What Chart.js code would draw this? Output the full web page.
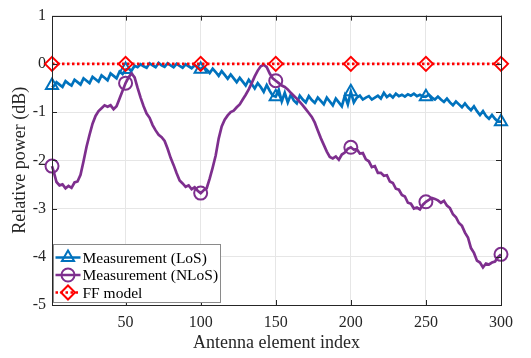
<!DOCTYPE html>
<html>
<head>
<meta charset="utf-8">
<script src="https://cdn.jsdelivr.net/npm/chart.js@4"></script>
<style>
  html, body { margin: 0; padding: 0; background: #fff; }
</style>
</head>
<body>
<canvas id="chart" width="531" height="358"></canvas>
<script>
// element indices: 1, then every second element up to 300
const elemIdx = [1].concat(Array.from({ length: 150 }, (_, i) => 2 * (i + 1)));
const markerIdx = [1, 50, 100, 150, 200, 250, 300];
const xTicks = [50, 100, 150, 200, 250, 300];
const yTicks = [-5, -4, -3, -2, -1, 0, 1];

const losVal = [
  -0.45, -0.47, -0.38, -0.43, -0.48, -0.36, -0.41, -0.45, -0.33, -0.38,
  -0.43, -0.30, -0.35, -0.40, -0.27, -0.32, -0.37, -0.24, -0.29, -0.34,
  -0.20, -0.25, -0.30, -0.16, -0.21, -0.12, -0.10, -0.14, -0.04, -0.07,
  -0.01, -0.05, -0.08, 0.01, -0.03, -0.07, 0.02, -0.03, -0.06, 0.01,
  -0.03, -0.07, 0.00, -0.04, -0.08, -0.01, -0.05, -0.09, -0.03, -0.07,
  -0.11, -0.06, -0.12, -0.19, -0.10, -0.17, -0.25, -0.15, -0.23, -0.31,
  -0.22, -0.30, -0.38, -0.29, -0.37, -0.45, -0.33, -0.42, -0.51, -0.40,
  -0.48, -0.58, -0.44, -0.56, -0.66, -0.68, -0.54, -0.78, -0.60, -0.80,
  -0.64, -0.76, -0.82, -0.66, -0.74, -0.80, -0.67, -0.75, -0.81, -0.70,
  -0.77, -0.84, -0.70, -0.78, -0.86, -0.72, -0.80, -0.88, -0.66, -0.84,
  -0.58, -0.80, -0.70, -0.66, -0.74, -0.70, -0.67, -0.74, -0.70, -0.66,
  -0.72, -0.60, -0.69, -0.64, -0.70, -0.62, -0.67, -0.64, -0.68, -0.63,
  -0.66, -0.62, -0.67, -0.64, -0.68, -0.68, -0.64, -0.70, -0.74, -0.68,
  -0.74, -0.79, -0.72, -0.80, -0.86, -0.78, -0.84, -0.90, -0.82, -0.90,
  -0.96, -0.88, -0.98, -1.06, -0.98, -1.08, -1.14, -1.06, -1.14, -1.20,
  -1.20
];

const nlosVal = [
  -2.12, -2.22, -2.45, -2.52, -2.50, -2.58, -2.53, -2.57, -2.46, -2.44,
  -2.30, -2.02, -1.72, -1.47, -1.24, -1.08, -0.98, -0.92, -0.86, -0.89,
  -0.86, -0.94, -0.88, -0.72, -0.56, -0.40, -0.28, -0.20, -0.28, -0.50,
  -0.70, -0.88, -1.03, -1.12, -1.27, -1.38, -1.47, -1.52, -1.60, -1.76,
  -1.95, -2.10, -2.27, -2.42, -2.48, -2.55, -2.52, -2.60, -2.56, -2.63,
  -2.68, -2.62, -2.58, -2.38, -2.15, -1.90, -1.55, -1.30, -1.16, -1.07,
  -1.00, -0.97, -0.90, -0.84, -0.74, -0.64, -0.53, -0.40, -0.26, -0.14,
  -0.05, -0.02, -0.07, -0.20, -0.30, -0.35, -0.40, -0.45, -0.48, -0.53,
  -0.60, -0.66, -0.72, -0.79, -0.86, -0.94, -1.02, -1.10, -1.22, -1.38,
  -1.54, -1.68, -1.82, -1.93, -1.96, -1.92, -1.99, -1.88, -1.84, -1.76,
  -1.73, -1.78, -1.77, -1.86, -1.85, -1.98, -2.02, -2.14, -2.12, -2.26,
  -2.26, -2.32, -2.31, -2.44, -2.47, -2.59, -2.61, -2.72, -2.75, -2.88,
  -2.90, -3.00, -2.98, -3.02, -2.92, -2.86, -2.82, -2.78, -2.80, -2.83,
  -2.88, -2.84, -2.94, -2.99, -3.12, -3.18, -3.30, -3.36, -3.50, -3.60,
  -3.82, -3.92, -4.08, -4.12, -4.22, -4.14, -4.16, -4.12, -4.10, -4.01,
  -3.95
];

const ffIdx = [1, 50, 100, 150, 200, 250, 300];
const ffVal = [0, 0, 0, 0, 0, 0, 0];

const FONT = "'Liberation Serif', 'Times New Roman', serif";
const AXIS_COLOR = '#262626';

const series = [
  { label: 'Measurement (LoS)', color: '#0072BD', style: 'triangle', radius: 7, dash: [] },
  { label: 'Measurement (NLoS)', color: '#7E2F8E', style: 'circle', radius: 6.5, dash: [] },
  { label: 'FF model', color: '#FF0000', style: 'rectRot', radius: 7, dash: [2.5, 2.5] }
];

const markerRadius = r => ctx => markerIdx.includes(ctx.raw.x) ? r : 0;

// box round the axes with small inward ticks, like MATLAB
const axesBox = {
  id: 'axesBox',
  afterDatasetsDraw(chart) {
    const { ctx, chartArea: a, scales } = chart;
    ctx.save();
    ctx.strokeStyle = AXIS_COLOR;
    ctx.lineWidth = 1;
    ctx.strokeRect(Math.round(a.left) + 0.5, Math.round(a.top) + 0.5,
      Math.round(a.right - a.left), Math.round(a.bottom - a.top));
    ctx.beginPath();
    xTicks.forEach(v => {
      const x = Math.round(scales.x.getPixelForValue(v)) + 0.5;
      ctx.moveTo(x, a.bottom); ctx.lineTo(x, a.bottom - 5);
      ctx.moveTo(x, a.top); ctx.lineTo(x, a.top + 5);
    });
    yTicks.forEach(v => {
      const y = Math.round(scales.y.getPixelForValue(v)) + 0.5;
      ctx.moveTo(a.left, y); ctx.lineTo(a.left + 5, y);
      ctx.moveTo(a.right, y); ctx.lineTo(a.right - 5, y);
    });
    ctx.stroke();
    ctx.restore();
  }
};

// legend box in the lower left corner of the axes
const boxLegend = {
  id: 'boxLegend',
  afterDraw(chart) {
    const { ctx, chartArea: a } = chart;
    const x0 = Math.round(a.left) + 1.5, y0 = Math.round(a.bottom) - 60.5;
    ctx.save();
    ctx.fillStyle = '#fff';
    ctx.fillRect(x0, y0, 167, 58);
    ctx.strokeStyle = '#8a8a8a';
    ctx.lineWidth = 1;
    ctx.strokeRect(x0, y0, 167, 58);
    series.forEach((s, i) => {
      const y = y0 + 13 + i * 17.5;
      ctx.strokeStyle = s.color;
      ctx.lineWidth = 2.5;
      ctx.setLineDash(s.dash);
      ctx.beginPath();
      ctx.moveTo(x0 + 2, y);
      ctx.lineTo(x0 + 27, y);
      ctx.stroke();
      ctx.setLineDash([]);
      ctx.lineWidth = 2;
      ctx.fillStyle = 'rgba(0,0,0,0)';
      Chart.helpers.drawPoint(ctx, {
        pointStyle: s.style, radius: s.radius, rotation: 0, borderWidth: 2
      }, x0 + 14.5, y);
      ctx.fillStyle = '#000';
      ctx.font = '15.5px ' + FONT;
      ctx.textBaseline = 'middle';
      ctx.fillText(s.label, x0 + 29, y + 1);
    });
    ctx.restore();
  }
};

const toPoints = (xs, ys) => xs.map((x, i) => ({ x: x, y: ys[i] }));

const datasets = [
  { data: toPoints(elemIdx, losVal), order: 2 },
  { data: toPoints(elemIdx, nlosVal), order: 1 },
  { data: toPoints(ffIdx, ffVal), order: 0 }
].map((d, i) => {
  const s = series[i];
  return Object.assign(d, {
    label: s.label,
    borderColor: s.color,
    borderWidth: 2.7,
    borderDash: s.dash,
    pointStyle: s.style,
    pointRadius: i === 2 ? s.radius : markerRadius(s.radius),
    pointBorderColor: s.color,
    pointBorderWidth: 2,
    pointBackgroundColor: 'rgba(0,0,0,0)',
    tension: 0,
    clip: false
  });
});

new Chart(document.getElementById('chart'), {
  type: 'line',
  data: { datasets: datasets },
  options: {
    responsive: false,
    animation: false,
    events: [],
    layout: { padding: { top: 15, right: 30, left: 0, bottom: 0 } },
    plugins: { legend: { display: false }, tooltip: { enabled: false } },
    scales: {
      x: {
        type: 'linear',
        min: 1,
        max: 300,
        afterBuildTicks: s => { s.ticks = xTicks.map(v => ({ value: v })); },
        afterFit: s => { s.height = 53; },
        grid: { color: '#e6e6e6', drawTicks: false },
        border: { display: false },
        ticks: { padding: 8, color: AXIS_COLOR, maxRotation: 0, font: { family: FONT, size: 16 } },
        title: { display: true, text: 'Antenna element index', color: AXIS_COLOR,
          font: { family: FONT, size: 18 }, padding: { top: 0, bottom: 4 } }
      },
      y: {
        type: 'linear',
        min: -5,
        max: 1,
        afterBuildTicks: s => { s.ticks = yTicks.map(v => ({ value: v })); },
        afterFit: s => { s.width = 52; },
        grid: { color: '#e6e6e6', drawTicks: false },
        border: { display: false },
        ticks: { padding: 6, color: AXIS_COLOR, font: { family: FONT, size: 16 } },
        title: { display: true, text: 'Relative power (dB)', color: AXIS_COLOR,
          font: { family: FONT, size: 18 }, padding: { top: 9, bottom: 0 } }
      }
    }
  },
  plugins: [axesBox, boxLegend]
});
</script>
</body>
</html>
